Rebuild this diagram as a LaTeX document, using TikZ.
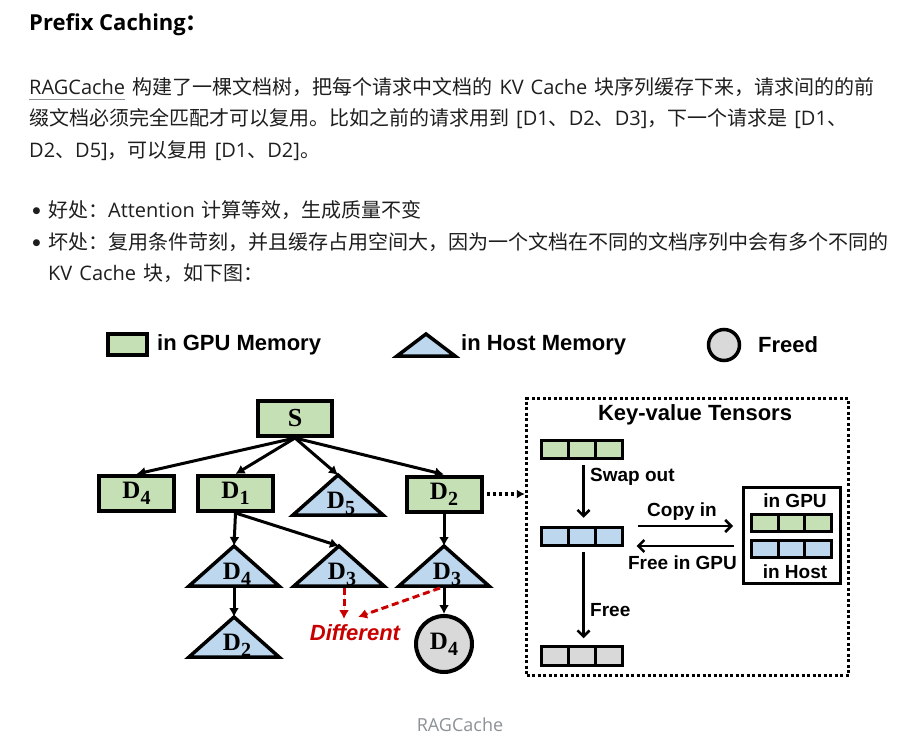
\documentclass[tikz,border=0pt]{standalone}
\usepackage{fontspec}
\setmainfont{Noto Sans CJK SC}
\newfontfamily\latf{Open Sans}
\newfontfamily\arialf{Liberation Sans}
\newfontfamily\serf{Liberation Serif}
\newfontfamily\symf{DejaVu Sans}
\usetikzlibrary{positioning, arrows.meta, calc}

\definecolor{gpugreen}{RGB}{197,224,180}
\definecolor{hostblue}{RGB}{189,215,238}
\definecolor{freedgray}{RGB}{217,217,217}
\definecolor{diffred}{RGB}{200,0,0}
\definecolor{txtgray}{RGB}{30,30,30}
\definecolor{capgray}{RGB}{140,145,150}

\newcommand\lw[1]{{\latf #1}}
\newcommand\parafont{\fontsize{20}{24}\selectfont\spaceskip 7pt plus 2pt\relax}
\newcommand\dlab[1]{{\serf\bfseries\fontsize{25}{25}\selectfont D\raisebox{-6pt}{\fontsize{20}{20}\selectfont #1}}}
\newcommand\hostdoc[4]{%
  \draw[hostshape] (#2,#3) -- ++(45,40) -- ++(-90,0) -- cycle;
  \coordinate (#1-a) at (#2,#3);
  \coordinate (#1-b) at ($(#2,#3)+(0,40)$);
  \node[anchor=base, inner sep=0pt] (#1) at ($(#2,#3)+(3,33)$) {\dlab{#4}};}

\begin{document}
\begin{tikzpicture}[x=1pt, y=-1pt,
  gpudoc/.style={draw, line width=4pt, fill=gpugreen, minimum width=75pt, minimum height=35pt, inner sep=0pt},
  freed/.style={draw, circle, line width=4pt, fill=freedgray, minimum size=56pt, inner sep=0pt},
  hostshape/.style={draw, line width=3.5pt, fill=hostblue, line join=miter},
  tree/.style={line width=3pt, -{Latex[length=9pt,width=10pt]}},
  diff/.style={draw=diffred, fill=diffred, line width=3pt, dash pattern=on 7pt off 4pt, -{Latex[length=9pt,width=10pt]}},
  kvarrow/.style={line width=2.5pt, -{Straight Barb[length=6pt,width=12pt]}},
  cell/.style={draw, line width=3pt, minimum width=27pt, minimum height=18.5pt, inner sep=0pt},
  para/.style={anchor=west, inner sep=0pt, text=txtgray, font=\parafont},
  lab/.style={font=\arialf\bfseries\fontsize{19}{19}\selectfont, inner sep=0pt},
  legend/.style={font=\arialf\bfseries\fontsize{22}{22}\selectfont, anchor=west, inner sep=0pt}]
\useasboundingbox (0,0) rectangle (901,743);

\node[para, text=black, font=\bfseries\fontsize{22}{26}\selectfont] (title) at (29,25) {\lw{\bfseries Prefix Caching}：};
\node[para] (l1a) at (29,87) {\lw{RAGCache}};
\node[para, anchor=base west] (l1b) at ([xshift=7pt]l1a.base east) {构建了一棵文档树，把每个请求中文档的 \lw{KV Cache} 块序列缓存下来，请求间的的前};
\draw[capgray, line width=1pt] ($(l1a.base west)+(0,5)$) -- ($(l1a.base east)+(0,5)$);
\node[para] (l2) at (29,119) {缀文档必须完全匹配才可以复用。比如之前的请求用到 \lw{[D1}、\lw{D2}、\lw{D3]}，下一个请求是 \lw{[D1}、};
\node[para] (l3) at (29,151) {\lw{D2}、\lw{D5]}，可以复用 \lw{[D1}、\lw{D2]}。};
\node[inner sep=0pt, text=txtgray, font=\symf\fontsize{9}{9}\selectfont] (dot1) at (36.5,211) {●};
\node[para] (good) at (48,210) {好处：\lw{Attention} 计算等效，生成质量不变};
\node[inner sep=0pt, text=txtgray, font=\symf\fontsize{9}{9}\selectfont] (dot2) at (36.5,243) {●};
\node[para] (bad) at (48,242) {坏处：复用条件苛刻，并且缓存占用空间大，因为一个文档在不同的文档序列中会有多个不同的};
\node[para] (bad2) at (48,273) {\lw{KV Cache} 块，如下图：};

\node[draw, line width=4pt, fill=gpugreen, minimum width=39pt, minimum height=21pt, inner sep=0pt] (lgpu) at (127.5,344.5) {};
\node[legend] (lgput) at (157,345) {in GPU Memory};
\draw[hostshape] (426,334) -- (455,356) -- (397,356) -- cycle;
\node[legend] (lhostt) at (461,345) {in Host Memory};
\node[draw, circle, line width=3.5pt, fill=freedgray, minimum size=31pt, inner sep=0pt] (lfree) at (724,345) {};
\node[legend] (lfreet) at (758,345) {Freed};

\node[gpudoc, minimum width=74pt] (s) at (295,418.5) {\serf\bfseries\fontsize{26}{26}\selectfont S};
\node[gpudoc] (d4) at (136.5,493.5) {\dlab{4}};
\node[gpudoc] (d1) at (235.5,493.5) {\dlab{1}};
\node[gpudoc] (d2) at (444,494) {\dlab{2}};
\hostdoc{t5}{338}{475}{5}
\hostdoc{t4}{234}{546}{4}
\hostdoc{t3}{339}{546}{3}
\hostdoc{u3}{444}{546}{3}
\hostdoc{t2}{234}{617}{2}
\node[freed] (c4) at (444,644) {\dlab{4}};
\node[font=\arialf\bfseries\itshape\fontsize{22}{22}\selectfont, text=diffred, inner sep=0pt] (dif) at (355,633) {Different};
\coordinate (difv) at (344,619);
\coordinate (difo) at (358,617);

\draw[tree] (s.south) -- (d4.north);
\draw[tree] (s.south) -- (d1.north);
\draw[tree] (s.south) -- (t5-a);
\draw[tree] (s.south) -- (d2.north);
\draw[tree] (d1.south) -- (t4-a);
\draw[tree] (d1.south) -- (t3-a);
\draw[tree] (d2.south) -- (u3-a);
\draw[tree] (t4-b) -- (t2-a);
\draw[tree] (u3-b) -- (c4.north);
\draw[diff] ($(t3-b)+(5,2)$) -- (difv);
\draw[diff] ($(u3-b)+(-4,2)$) -- (difo);

\node[draw, line width=3.5pt, dash pattern=on 3pt off 2.5pt, minimum width=322pt, minimum height=277pt] (kv) at (687.5,537) {};
\draw[line width=3.5pt, dash pattern=on 3pt off 3pt, shorten <=3pt, -{Latex[length=8pt,width=9pt]}] (d2.east) -- (d2.east -| kv.west);
\node[legend, anchor=center] (kvt) at (695,415) {Key-value Tensors};

\foreach \i in {0,1,2} {
  \node[cell, fill=gpugreen] (g\i) at (554.5+27*\i,449.5) {};
  \node[cell, fill=hostblue] (b\i) at (554.5+27*\i,536.5) {};
  \node[cell, fill=freedgray] (f\i) at (554.5+27*\i,656) {};
}
\draw[kvarrow, shorten <=5pt, shorten >=8pt] ([xshift=2pt]g1.south) -- ([xshift=2pt]b1.north);
\draw[kvarrow, shorten <=5pt, shorten >=7pt] ([xshift=2pt]b1.south) -- ([xshift=2pt]f1.north);
\node[lab, anchor=west] (swap) at (590,477) {Swap out};
\node[lab, anchor=west] (free) at (590,610) {Free};

\node[draw, line width=3pt, minimum width=97pt, minimum height=96pt] (host) at (792,535.5) {};
\node[lab] (ingpu) at (795,501) {in GPU};
\foreach \i in {0,1,2} {
  \node[cell, fill=gpugreen, minimum width=26.5pt, minimum height=17.5pt] (hg\i) at (765+26.5*\i,523) {};
  \node[cell, fill=hostblue, minimum width=26.5pt, minimum height=17.5pt] (hb\i) at (765+26.5*\i,549) {};
}
\node[lab] (inhost) at (795,572) {in Host};

\draw[kvarrow] ($(b2.east)+(14,-10.5)$) -- ($(b2.east -| host.west)+(-9,-10.5)$);
\draw[kvarrow] ($(b2.east -| host.west)+(-8,9.5)$) -- ($(b2.east)+(13,9.5)$);
\node[lab] (copy) at (682,512) {Copy in};
\node[lab] (fig) at (682.5,563) {Free in GPU};

\node[font=\latf\fontsize{18}{18}\selectfont, text=capgray, inner sep=0pt] (cap) at (460,725) {RAGCache};
\end{tikzpicture}
\end{document}
